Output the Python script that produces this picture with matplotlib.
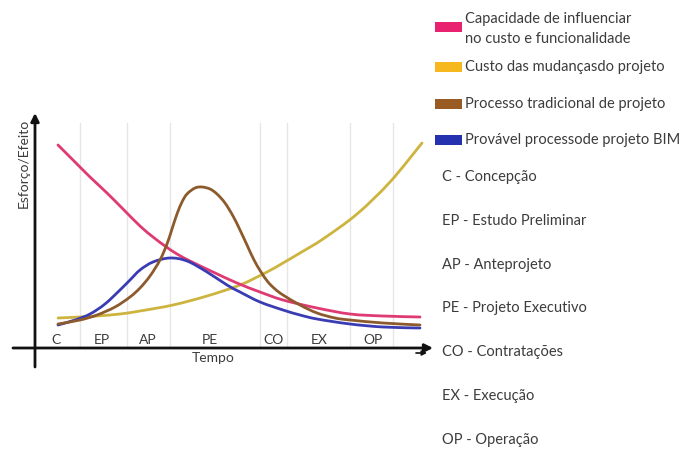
import matplotlib
matplotlib.use("Agg")
import matplotlib.pyplot as plt
from matplotlib.patches import Rectangle, PathPatch
from matplotlib.path import Path

plt.rcParams['font.family'] = ['Lato', 'DejaVu Sans']

# ---- data (time units along x, effort units above the time axis) ----
pink_t = [23, 38, 55, 72, 88, 105, 118, 130, 142, 155, 178, 202, 225, 248, 282, 315, 348, 385]
pink_v = [203, 188, 171, 155, 139, 122, 111, 102, 94, 87, 76, 65, 56, 48, 40, 34, 32, 31]

yellow_t = [23, 45, 62, 85, 105, 138, 172, 205, 232, 248, 265, 288, 322, 355, 387]
yellow_v = [30, 31, 32, 34, 37, 43, 52, 63, 76, 85, 95, 109, 134, 166, 205]

brown_t = [23, 45, 62, 80, 95, 105, 115, 125, 132, 137, 142, 147, 152, 160, 167, 175,
           182, 190, 198, 205, 212, 219, 226, 233, 240, 248, 265, 282, 300, 315, 348, 385]
brown_v = [24, 28, 33, 41, 51, 60, 72, 88, 104, 119, 134, 146, 154, 160, 161, 159,
           154, 145, 132, 118, 103, 88, 76, 66, 59, 53, 43, 35, 30, 28, 25, 23]

blue_t = [23, 40, 55, 70, 85, 95, 105, 118, 135, 152, 172, 192, 205, 225, 248, 265, 282, 315, 348, 385]
blue_v = [23, 28, 34, 44, 58, 68, 78, 86, 90, 87, 76, 63, 56, 46, 38, 33, 29, 24, 21, 20]

phase_codes = ["C", "EP", "AP", "PE", "CO", "EX", "OP"]
phase_pos = [21, 67, 113, 175, 239, 284, 338]
grid_pos = [45, 92, 135, 225, 252, 315, 358]

legend_labels = ["Capacidade de influenciar\nno custo e funcionalidade",
                 "Custo das mudançasdo projeto",
                 "Processo tradicional de projeto",
                 "Provável processode projeto BIM"]
phase_names = ["C - Concepção", "EP - Estudo Preliminar", "AP - Anteprojeto",
               "PE - Projeto Executivo", "CO - Contratações", "EX - Execução",
               "OP - Operação"]

# ---- styles ----
c_pink, c_yellow, c_brown, c_blue = "#df3a74", "#cdb43e", "#8c5a2c", "#3a3cb4"
p_pink, p_yellow, p_brown, p_blue = "#e8226e", "#f6b81e", "#9a5a24", "#2432b0"
txt = "#3c3c3c"

W, H = 681, 451
fig = plt.figure(figsize=(W / 100, H / 100), dpi=100)
ax = fig.add_axes([0, 0, 1, 1])
X0, Y0 = 35, 348  # pixel of origin
ax.set_xlim(-X0, W - X0)
ax.set_ylim(Y0 - H, Y0)
ax.axis("off")


def px(x):
    return x - X0


def py(y):
    return Y0 - y


def smooth_line(xs, ys, color, z):
    """Draw a smooth curve through the given points (Catmull-Rom as Bezier path)."""
    pts = list(zip(xs, ys))
    n = len(pts)
    verts = [pts[0]]
    codes = [Path.MOVETO]
    for i in range(n - 1):
        p0 = pts[i - 1] if i > 0 else pts[i]
        p1 = pts[i]
        p2 = pts[i + 1]
        p3 = pts[i + 2] if i + 2 < n else pts[i + 1]
        c1 = (p1[0] + (p2[0] - p0[0]) / 6, p1[1] + (p2[1] - p0[1]) / 6)
        c2 = (p2[0] - (p3[0] - p1[0]) / 6, p2[1] - (p3[1] - p1[1]) / 6)
        verts += [c1, c2, p2]
        codes += [Path.CURVE4] * 3
    ax.add_patch(PathPatch(Path(verts, codes), facecolor="none", edgecolor=color,
                           lw=2.0, zorder=z, capstyle="round"))


# grid
for g in grid_pos:
    ax.plot([g, g], [0, py(123)], color="#e6e6e6", lw=1, zorder=1)

# curves
smooth_line(yellow_t, yellow_v, c_yellow, 3)
smooth_line(pink_t, pink_v, c_pink, 4)
smooth_line(blue_t, blue_v, c_blue, 4)
smooth_line(brown_t, brown_v, c_brown, 5)

# axes arrows
ax.annotate("", xy=(0, py(113)), xytext=(0, py(367)),
            arrowprops=dict(arrowstyle="-|>", color="#111111", lw=2, mutation_scale=12,
                            shrinkA=0, shrinkB=0), zorder=6)
ax.annotate("", xy=(px(433), 0), xytext=(px(13), 0),
            arrowprops=dict(arrowstyle="-|>", color="#111111", lw=2, mutation_scale=12,
                            shrinkA=0, shrinkB=0), zorder=6)

for code, p in zip(phase_codes, phase_pos):
    ax.text(p, py(340), code, ha="center", va="center", fontsize=10, color=txt)
ax.text(px(213), py(358), "Tempo", ha="center", va="center", fontsize=10, color=txt)
ax.text(px(24), py(163), "Esforço/Efeito", ha="center", va="center", rotation=90,
        fontsize=10, color=txt)

# legend
patch_cols = [p_pink, p_yellow, p_brown, p_blue]
patch_y = [27, 67, 104, 140]
text_y = [29, 67, 104, 140]
for col, yy, ty, lab in zip(patch_cols, patch_y, text_y, legend_labels):
    ax.add_patch(Rectangle((px(435), py(yy + 5)), 27, 10, color=col, lw=0, zorder=5))
    ax.text(px(465), py(ty), lab, ha="left", va="center", fontsize=10.5, color=txt,
            linespacing=1.5)

for i, name in enumerate(phase_names):
    ax.text(px(442), py(177 + i * 43.8), name, ha="left", va="center", fontsize=10.5, color=txt)

ax.annotate("", xy=(px(427), py(353)), xytext=(px(416), py(353)),
            arrowprops=dict(arrowstyle="-|>", color="#111111", lw=1.2, mutation_scale=7,
                            shrinkA=0, shrinkB=0))

fig.savefig("out.png", dpi=100)
